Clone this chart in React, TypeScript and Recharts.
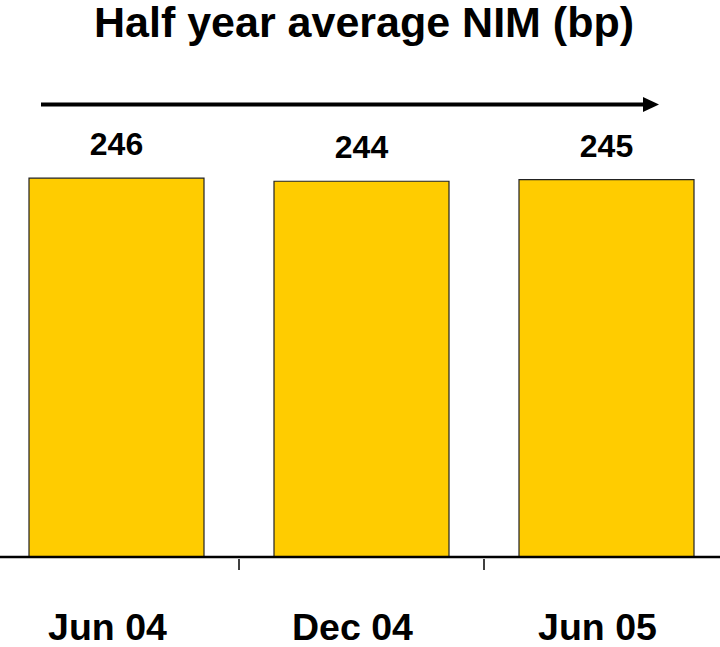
import React from 'react';
import { BarChart, Bar, XAxis, YAxis, LabelList } from 'recharts';

const periods = ['Jun 04', 'Dec 04', 'Jun 05'];
const nimBp = [246, 244, 245];
const chartTitle = 'Half year average NIM (bp)';

const data = periods.map((period, i) => ({ period, nim: nimBp[i] }));

const W = 720;
const H = 647;
const margin = { top: 95, right: -9, bottom: 0, left: -6 };
// half of one category slot, used to put the tick marks between the bars
const halfBand = (W - margin.left - margin.right) / periods.length / 2;
const FONT = '"Liberation Sans", Arial, Helvetica, sans-serif';

const PeriodTick = (props: any) => {
  const { x, y, payload, index } = props;
  return (
    <g>
      {index > 0 && (
        <line
          x1={x - halfBand}
          x2={x - halfBand}
          y1={y + 2}
          y2={y + 13}
          stroke="#000"
          strokeWidth={1.5}
        />
      )}
      <text
        x={x - 9}
        y={y + 83}
        textAnchor="middle"
        fontSize={37.5}
        fontWeight="bold"
        fontFamily={FONT}
        fill="#000"
      >
        {payload.value}
      </text>
    </g>
  );
};

export default function App() {
  return (
    <div style={{ position: 'absolute', left: 0, top: 0, width: W, height: H, background: '#fff' }}>
      <BarChart width={W} height={H} data={data} margin={margin} barCategoryGap={0}>
        <YAxis hide domain={[0, 300]} />
        <XAxis
          dataKey="period"
          height={90}
          tickSize={0}
          tickMargin={0}
          tickLine={false}
          axisLine={{ stroke: '#000', strokeWidth: 2.5 }}
          tick={<PeriodTick />}
          interval={0}
        />
        <Bar dataKey="nim" fill="#FFCC00" stroke="#222" strokeWidth={1.2} barSize={175} isAnimationActive={false}>
          <LabelList
            dataKey="nim"
            position="top"
            offset={23}
            fontSize={32}
            fontWeight="bold"
            fontFamily={FONT}
            fill="#000"
          />
        </Bar>
      </BarChart>

      {/* title and the arrow above the bars */}
      <svg width={W} height={H} style={{ position: 'absolute', left: 0, top: 0, pointerEvents: 'none' }}>
        <text x={364} y={37} textAnchor="middle" fontSize={43} fontWeight="bold" fontFamily={FONT} fill="#000">
          {chartTitle}
        </text>
        <line x1={41} y1={104.5} x2={645} y2={104.5} stroke="#000" strokeWidth={4} />
        <polygon points="643,97 659,104.5 643,112" fill="#000" />
      </svg>
    </div>
  );
}
